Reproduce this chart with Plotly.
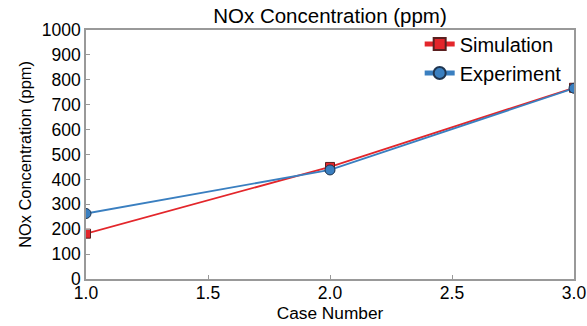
import plotly.graph_objects as go

case_number = [1.0, 2.0, 3.0]
simulation = [182, 450, 768]
experiment = [263, 438, 766]
x_ticks = [1.0, 1.5, 2.0, 2.5, 3.0]
x_tick_labels = ["1.0", "1.5", "2.0", "2.5", "3.0"]
y_ticks = list(range(0, 1001, 100))

red = "#e3262b"
blue = "#3a7fc0"

fig = go.Figure()
fig.add_trace(go.Scatter(x=case_number, y=simulation, name="Simulation", mode="lines+markers",
                         line=dict(color=red, width=1.8),
                         marker=dict(symbol="square", size=9, color=red, line=dict(color="#5a2020", width=1))))
fig.add_trace(go.Scatter(x=case_number, y=experiment, name="Experiment", mode="lines+markers",
                         line=dict(color=blue, width=1.8),
                         marker=dict(symbol="circle", size=10, color=blue, line=dict(color="#1f3550", width=1))))

fig.update_layout(
    width=587, height=326,
    margin=dict(l=86, r=13, t=30, b=47, autoexpand=False),
    paper_bgcolor="white", plot_bgcolor="white",
    font=dict(family="Liberation Sans, Arial, sans-serif", color="black"),
    title=dict(text="NOx Concentration (ppm)", x=0.5, xref="paper", xanchor="center",
               y=1 - 15.5 / 326, yref="container", yanchor="middle", font=dict(size=20.5)),
    showlegend=True,
    legend=dict(x=0.985, y=1.022, xanchor="right", yanchor="top", bgcolor="rgba(0,0,0,0)",
                font=dict(size=20), tracegroupgap=0, itemsizing="constant"),
    xaxis=dict(range=[1.0, 3.0], tickvals=x_ticks, ticktext=x_tick_labels, automargin=False,
               showgrid=False, zeroline=False, showline=True, linecolor="#999999", linewidth=1.5,
               mirror=True, ticks="inside", ticklen=4, tickcolor="#999999",
               tickfont=dict(size=17.5), ticklabelstandoff=-3,
               title=dict(text="Case Number", font=dict(size=17.3), standoff=0)),
    yaxis=dict(range=[0, 1000], tickvals=y_ticks, automargin=False,
               showgrid=False, zeroline=False, showline=True, linecolor="#999999", linewidth=1.5,
               mirror=True, ticks="inside", ticklen=4, tickcolor="#999999",
               tickfont=dict(size=17.5),
               title=dict(text="NOx Concentration (ppm)", font=dict(size=16.4), standoff=6)),
)

fig.write_html("out.html", config={"displayModeBar": False},
               post_script="document.body.style.margin='0';")
